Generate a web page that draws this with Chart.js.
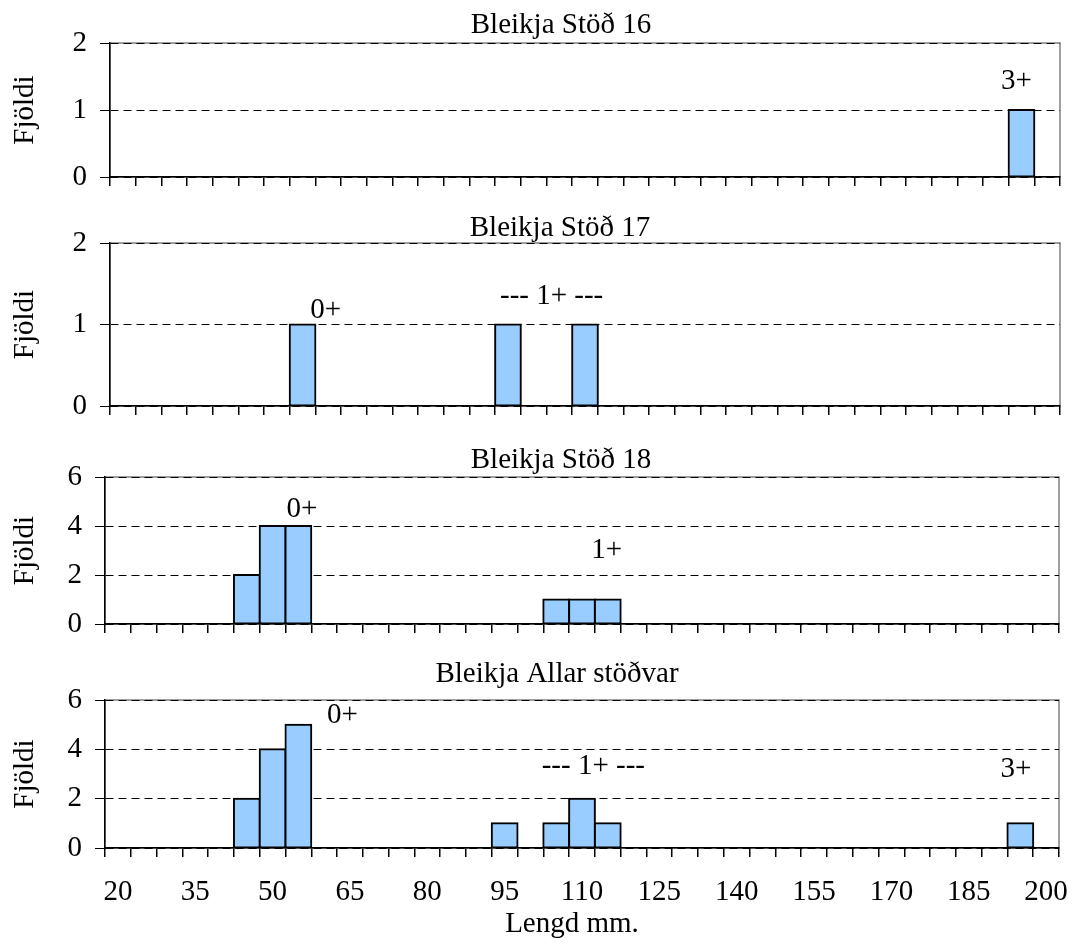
<!DOCTYPE html>
<html>
<head>
<meta charset="utf-8">
<script src="https://cdn.jsdelivr.net/npm/chart.js@4.4.1/dist/chart.umd.min.js"></script>
<style>
  body { margin: 0; background: #fff; width: 1074px; height: 944px; overflow: hidden; position: relative; }
  .panel { position: absolute; left: 0; width: 1074px; }
</style>
</head>
<body>
<div class="panel" style="top:0;height:210px"><canvas id="st16"></canvas></div>
<div class="panel" style="top:200px;height:240px"><canvas id="st17"></canvas></div>
<div class="panel" style="top:440px;height:220px"><canvas id="st18"></canvas></div>
<div class="panel" style="top:660px;height:284px"><canvas id="allar"></canvas></div>
<script>
// length classes (mm)
const lengths = ['20', '25', '30', '35', '40', '45', '50', '55', '60', '65', '70', '75', '80',
  '85', '90', '95', '100', '105', '110', '115', '120', '125', '130', '135', '140', '145',
  '150', '155', '160', '165', '170', '175', '180', '185', '190', '195', '200'];

// counts per length class
const stod16 = [0, 0, 0, 0, 0, 0, 0, 0, 0, 0, 0, 0, 0, 0, 0, 0, 0, 0, 0, 0, 0, 0, 0, 0, 0, 0, 0, 0, 0, 0, 0, 0, 0, 0, 0, 1, 0];
const stod17 = [0, 0, 0, 0, 0, 0, 0, 1, 0, 0, 0, 0, 0, 0, 0, 1, 0, 0, 1, 0, 0, 0, 0, 0, 0, 0, 0, 0, 0, 0, 0, 0, 0, 0, 0, 0, 0];
const stod18 = [0, 0, 0, 0, 0, 2, 4, 4, 0, 0, 0, 0, 0, 0, 0, 0, 0, 1, 1, 1, 0, 0, 0, 0, 0, 0, 0, 0, 0, 0, 0, 0, 0, 0, 0, 0, 0];
const allar = [0, 0, 0, 0, 0, 2, 4, 5, 0, 0, 0, 0, 0, 0, 0, 1, 0, 1, 2, 1, 0, 0, 0, 0, 0, 0, 0, 0, 0, 0, 0, 0, 0, 0, 0, 1, 0];

// y axis ticks
const ticksSmall = [0, 1, 2];
const ticksLarge = [0, 2, 4, 6];

// age group notes: [text, class index, count level]
const notes16 = [['3+', 34.8, 1.43]];
const notes17 = [['0+', 7.9, 1.17], ['--- 1+ ---', 16.7, 1.35]];
const notes18 = [['0+', 7.14, 4.68], ['1+', 18.96, 3.01]];
const notesAllar = [['0+', 8.71, 5.38], ['--- 1+ ---', 18.44, 3.32], ['3+', 34.83, 3.19]];

const FONT = '"Liberation Serif", "Times New Roman", serif';
Chart.defaults.font.family = FONT;
Chart.defaults.font.size = 29;
Chart.defaults.color = '#000';

const notesPlugin = {
    id: 'notes',
    beforeDraw(chart) {
        const { ctx, chartArea: a } = chart;
        ctx.save();
        ctx.strokeStyle = '#808080';
        ctx.lineWidth = 1.5;
        ctx.strokeRect(a.left, a.top, a.right - a.left, a.bottom - a.top);
        ctx.restore();
    },
    afterDatasetsDraw(chart, args, opts) {
        const { ctx, scales: { x, y } } = chart;
        ctx.save();
        ctx.fillStyle = '#000';
        ctx.font = '29px ' + FONT;
        ctx.textAlign = 'center';
        ctx.textBaseline = 'alphabetic';
        ctx.fillText(opts.title, opts.titleX, opts.titleY);
        if (opts.xTitle) ctx.fillText(opts.xTitle, opts.xTitleX, opts.xTitleY);
        ctx.textBaseline = 'middle';
        opts.items.forEach(n => {
            ctx.fillText(n[0], x.getPixelForValue(n[1]), y.getPixelForValue(n[2]));
        });
        ctx.restore();
    }
};

function makeChart(id, g) {
    const yTicks = g.yTicks;
    return new Chart(document.getElementById(id), {
        type: 'bar',
        data: {
            labels: lengths,
            datasets: [{
                data: g.counts.map(v => v || null),
                backgroundColor: '#99CCFF',
                borderColor: '#000',
                borderWidth: 2,
                borderSkipped: false,
                inflateAmount: 1,
                barPercentage: 1,
                categoryPercentage: 1
            }]
        },
        options: {
            responsive: true,
            maintainAspectRatio: false,
            animation: false,
            layout: { padding: { left: 0, right: g.right, top: g.top, bottom: g.bottom } },
            plugins: {
                legend: { display: false },
                tooltip: { enabled: false },
                notes: {
                    title: g.title, titleX: g.titleX, titleY: g.titleY,
                    xTitle: g.xTitle, xTitleX: 572, xTitleY: 272,
                    items: g.notes
                }
            },
            scales: {
                x: {
                    afterFit: s => { s.height = g.xHeight; s.paddingLeft = 0; s.paddingRight = 0; },
                    grid: {
                        display: true, drawOnChartArea: false, drawTicks: true,
                        tickLength: 9, offset: true, color: '#000', lineWidth: 1.5
                    },
                    border: { display: true, color: '#000', width: 1.5 },
                    ticks: {
                        display: g.showLabels,
                        autoSkip: false, maxRotation: 0, padding: 18,
                        callback: (v, i) => i % 3 === 0 ? lengths[i] : ''
                    }
                },
                y: {
                    min: 0,
                    max: yTicks[yTicks.length - 1],
                    afterFit: s => { s.width = g.axisX; },
                    afterBuildTicks: s => { s.ticks = yTicks.map(v => ({ value: v })); },
                    grid: {
                        color: '#000', lineWidth: 1, drawTicks: true, tickLength: 10,
                        tickColor: '#000', tickBorderDash: []
                    },
                    border: { display: true, color: '#000', width: 1.5, dash: [8, 5] },
                    ticks: { padding: 13 },
                    title: { display: true, text: 'Fjöldi', padding: { top: 8, bottom: 0 } }
                }
            }
        },
        plugins: [notesPlugin]
    });
}

makeChart('st16', {
    counts: stod16, yTicks: ticksSmall, notes: notes16, title: 'Bleikja Stöð 16',
    titleX: 561, titleY: 33, axisX: 110, right: 14, top: 43, bottom: 23, xHeight: 10, showLabels: false
});
makeChart('st17', {
    counts: stod17, yTicks: ticksSmall, notes: notes17, title: 'Bleikja Stöð 17',
    titleX: 560, titleY: 36, axisX: 110, right: 14, top: 43, bottom: 24, xHeight: 10, showLabels: false
});
makeChart('st18', {
    counts: stod18, yTicks: ticksLarge, notes: notes18, title: 'Bleikja Stöð 18',
    titleX: 561, titleY: 28, axisX: 105, right: 15, top: 37, bottom: 26, xHeight: 10, showLabels: false
});
makeChart('allar', {
    counts: allar, yTicks: ticksLarge, notes: notesAllar, title: 'Bleikja Allar stöðvar',
    titleX: 557, titleY: 22, axisX: 105, right: 15, top: 40, bottom: 34, xHeight: 62, showLabels: true,
    xTitle: 'Lengd mm.'
});
</script>
</body>
</html>
